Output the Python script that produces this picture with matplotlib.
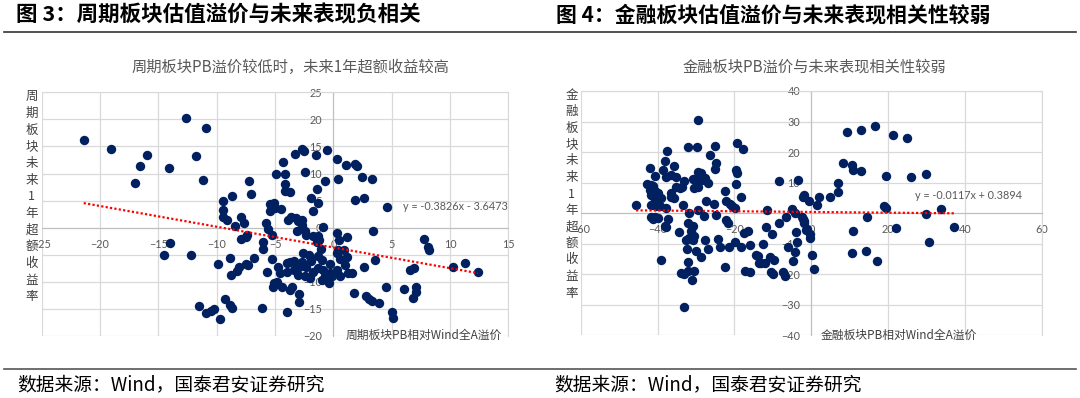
import numpy as np
import matplotlib
matplotlib.use("Agg")
import matplotlib.pyplot as plt
from matplotlib.lines import Line2D

plt.rcParams['font.family'] = ['Noto Sans CJK SC', 'DejaVu Sans']

# 图3：周期板块 PB 相对 Wind 全A 溢价 (x) vs 未来1年超额收益率 (y)
cyc_x = [-21.4, -19.1, -16.0, -16.6, -17.0, -14.1, -12.6, -10.9, -11.8, -11.2,
         -14.0, -14.5, -12.2, -9.9, -8.9, -8.8, -8.3, -8.1, -7.3, -7.5, -6.8,
         -11.5, -10.9, -10.5, -10.2, -9.7, -9.3, -8.9, -8.7, -6.1,
         -9.5, -9.5, -9.5, -9.1, -8.7, -8.4, -7.2, -7.1, -7.9, -7.7, -7.9, -7.5, -7.4,
         -5.8, -5.6, -6.0, -6.0, -5.4, -5.1, -5.4, -5.0, -5.3, -5.3, -5.7, -5.2, -5.1, -4.8, -4.9,
         -2.7, -2.5, -3.3, -1.5, -0.5, -4.3, -4.1, -2.4, 0.3, 1.1, 1.9, 2.0, -0.7, 0.4, 2.5, 3.3,
         -4.1, -4.1, -3.7, -1.4, -1.9, -1.3, -1.7, 1.9, 2.6, 4.6, -4.5,
         -3.9, -3.6, -3.2, -3.0, -2.7, -2.7, -0.9, -3.1, -2.4, -2.3, -1.7, -1.3, -1.2, -1.4,
         0.3, 0.5, 1.2, 3.4,
         -2.6, -2.1, -1.9, -1.05, -1.3, -1.0, -1.9, -0.3, 0.3, 0.6, 1.15, -3.7, -3.4, -4.0,
         -4.7, -2.7, -4.6, -4.0, -3.4, -3.0, -2.4, -1.7, -1.3, -0.9, -0.3, -0.7, 0.3, 1.0,
         1.3, 1.6, 0.6, -0.1, -2.3, -2.9, -0.4, -1.0, -2.0, 0.9, 0.4,
         -3.7, -3.5, -4.4, -2.9, -2.9, -4.0, 1.8, 2.8, 3.1, 3.3, 3.9, 4.5, 5.0, 5.1,
         2.6, 3.6, 6.1, 6.6, 6.9, 7.1, 7.1, 6.8,
         7.8, 8.1, 8.2, 10.3, 11.3, 12.4]
cyc_y = [16.2, 14.5, 13.4, 11.4, 8.2, 11.1, 20.2, 18.5, 13.3, 8.8,
         -2.9, -5.0, -5.0, -6.7, -5.6, -8.8, -8.0, -7.2, -6.9, -6.7, -5.6,
         -14.4, -15.8, -15.4, -15.1, -16.9, -13.2, -14.3, -14.9, -14.9,
         5.0, 3.3, 1.9, 1.4, 5.8, 0.3, 8.6, 6.3, 2.0, 0.9, -2.1, -1.7, -1.3,
         0.8, -0.2, -2.6, -4.0, 4.4, 4.6, 3.0, 3.6, -1.4, -5.8, -8.2, -10.9, -10.3, -10.0, 9.9,
         14.5, 14.2, 13.6, 13.5, 14.3, 12.1, 10.0, 10.3, 12.6, 11.6, 11.7, 11.4, 8.7, 9.0, 9.3, 9.0,
         8.1, 6.8, 6.6, 7.1, 5.4, 4.5, 3.0, 5.2, 5.4, 3.9, 3.5,
         1.5, 1.9, 1.8, 1.3, 1.5, 0.5, 0.1, -0.7, -0.7, -1.3, -1.5, -1.5, -2.3, -2.6,
         -0.9, -2.3, -1.7, -0.7,
         -4.7, -5.0, -5.7, -3.9, -5.2, -6.0, -6.2, -6.7, -4.7, -5.7, -5.35, -6.3, -6.2, -6.6,
         -7.2, -6.3, -8.4, -8.1, -7.8, -8.7, -9.0, -8.1, -7.5, -7.8, -8.4, -9.0, -7.8, -6.9,
         -8.4, -8.4, -9.0, -8.9, -7.2, -7.2, -10.3, -9.65, -9.3, -4.1, -4.1,
         -11.5, -10.9, -10.9, -12.2, -13.7, -15.5, -12.1, -12.7, -13.2, -13.5, -13.9, -10.9, -15.5, -16.7,
         -7.2, -6.0, -11.4, -7.8, -7.5, -10.9, -11.8, -13.0,
         -2.1, -3.5, -4.2, -7.3, -6.5, -8.2]

# 图4：金融板块 PB 相对 Wind 全A 溢价 (x) vs 未来1年超额收益率 (y)
fin_x = [-29.5, -32.2, -29.8, -25.0, -19.4, -17.8, -37.5, -26.3, -38.2, -24.8, -25.1,
         -42.1, -38.6, -35.8, -37.7, -36.4, -35.1, -40.8, -33.0, -35.1, -34.2, -36.4, -35.6, -36.4, -33.6,
         -42.7, -41.6, -41.2, -42.1, -40.8, -40.0, -41.6, -40.4, -39.1, -40.0, -41.6, -40.4, -39.5, -37.8, -40.8, -45.6,
         -29.6, -28.7, -29.0, -27.7, -26.9, -29.9, -30.4, -29.5, -28.4, -30.8, -27.5, -25.3, -24.8, -22.5, -22.2,
         -19.7, -19.4, -19.7, -18.4, -20.7, -19.8, -21.2, -33.4, -31.7, -29.5, -28.0,
         -40.8, -41.2, -40.0, -37.4, -41.7, -37.7, -38.2, -34.5,
         -32.1, -30.8, -31.3, -30.4, -32.6, -31.7, -30.8, -32.4, -29.9, -28.6, -27.7, -26.9, -24.3, -23.7,
         -39.0, -32.0, -33.9, -33.0, -32.1, -30.6, -31.1, -33.2, -22.5, -21.5, -19.9, -18.4, -16.0,
         -22.2, -21.8, -17.6, -16.4, -17.3, -16.0, -14.3, -13.6,
         -8.4, -3.6, -2.1, -0.5, 2.1, 1.4, 4.9, 6.9, 6.9, 8.2, 9.4, 10.5, 10.9, 12.9, 12.8, 16.6,
         14.5, 10.9, 10.5, 14.2, 17.1,
         -5.1, -4.3, -2.5, -2.1, -1.8, -1.2, -0.4, -0.4, -4.0, -3.7, -4.2, -4.9, 0.2, 0.8,
         -6.6, -8.4, -6.0, -10.3, -11.9, -11.6, -12.7, -13.8, -12.1, -13.1, -10.8, -9.7, -10.4, -10.1, -7.3, -6.9,
         21.3, 25.0, 19.3, 26.0, 29.7, -1.9, 19.0, 19.4, 33.6, 29.9, 21.9, 37.1, 30.6, -1.5, -1.9]
fin_y = [30.6, 21.5, 21.7, 22.0, 23.0, 21.1, 20.3, 19.0, 17.1, 16.4, 14.4,
         14.9, 14.2, 15.3, 12.0, 12.5, 12.0, 12.3, 10.6, 8.5, 8.2, 6.6, 4.9, 5.2, 8.7,
         9.5, 9.3, 9.0, 7.6, 7.1, 6.6, 6.0, 5.4, 4.9, 4.3, 2.7, 2.2, 2.4, 1.6, 4.3, 2.8,
         13.4, 13.3, 12.0, 11.5, 9.8, 10.4, 8.2, 8.5, 10.7, 11.1, 4.0, 3.0, -0.6, 7.1, 4.1,
         14.0, 13.3, 9.6, 5.2, 2.2, 1.6, 3.0, 2.7, 0.2, 1.1, -1.0,
         -1.1, -1.9, -1.6, -1.8, -1.1, -4.5, -4.2, -6.2,
         -3.1, -4.2, -5.8, -7.6, -8.7, -8.2, -8.7, -11.7, -12.3, -14.2, -8.7, -11.7, -8.4, -11.0,
         -15.3, -15.9, -19.5, -19.9, -18.8, -18.8, -22.0, -30.8, -17.5, -11.1, -9.6, -11.0, -10.5,
         -2.4, -3.1, -6.6, -5.7, -18.8, -19.3, -13.7, -16.2,
         10.4, 10.9, 5.4, 4.1, 5.2, 2.7, 5.2, 6.8, 9.8, 16.4, 26.7, 15.8, 14.0, 13.9, 27.3, 28.6,
         -1.1, -6.0, -13.1, -12.4, -15.6,
         1.4, 0.0, -1.1, -2.0, -3.1, -5.2, -6.7, -8.2, -6.3, -9.5, -12.7, -15.6, -13.6, -18.3,
         -1.1, -3.3, -11.0, -6.7, -4.4, 1.1, -10.1, -14.0, -16.4, -16.2, -14.4, -15.5, -19.3, -19.9, -19.2, -20.5,
         25.7, 24.5, 12.2, 12.0, 12.9, 5.8, 2.5, 1.6, 1.3, -0.4, -5.0, -4.4, -9.4, -5.5, -2.7]

cyc_fit = [-0.3826, -3.6473]
fin_fit = [-0.0117, 0.3894]
cyc_eq = "y = -0.3826x - 3.6473"
fin_eq = "y = -0.0117x + 0.3894"

W, H = 1080, 398
fig = plt.figure(figsize=(W / 100, H / 100), dpi=100)


def fx(px):
    return px / W


def fy(py):
    return 1 - py / H


def panel(rect, xs, ys, fit, eq, eq_xy, xlim, ylim, xstep, ystep):
    ax = fig.add_axes(rect)
    ax.set_axisbelow(True)
    ax.scatter(xs, ys, s=46, color='#002060', linewidths=0, zorder=3)
    xx = np.array([min(xs), max(xs)])
    ax.plot(xx, fit[0] * xx + fit[1], color='#ff0000', lw=1.6,
            ls=(0, (1, 1)), zorder=4)
    ax.set_xlim(xlim)
    ax.set_ylim(ylim)
    ax.set_xticks(np.arange(xlim[0], xlim[1] + 1, xstep))
    ax.set_yticks(np.arange(ylim[0], ylim[1] + 1, ystep))
    ax.grid(True, color='#d9d9d9', lw=0.9)
    for gl in ax.get_xgridlines() + ax.get_ygridlines():
        gl.set_clip_on(False)
    ax.spines['left'].set_position(('data', 0))
    ax.spines['bottom'].set_position(('data', 0))
    ax.spines['left'].set_color('#bfbfbf')
    ax.spines['bottom'].set_color('#bfbfbf')
    ax.spines['top'].set_color('#d9d9d9')
    ax.spines['right'].set_color('#d9d9d9')
    ax.tick_params(length=0, labelsize=7.8, labelcolor='#595959', pad=8)
    for lab in ax.get_xticklabels() + ax.get_yticklabels():
        lab.set_family('Lato')
    ax.text(eq_xy[0], eq_xy[1], eq, fontsize=7.8, color='#595959',
            family='Lato', va='center', ha='left', zorder=5)
    return ax


panel([fx(41.7), fy(336), fx(508.3) - fx(41.7), fy(92.3) - fy(336)],
      cyc_x, cyc_y, cyc_fit, cyc_eq, (6.0, 3.9), (-25, 15), (-20, 25), 5, 5)
panel([fx(580.7), fy(335.3), fx(1042) - fx(580.7), fy(91) - fy(335.3)],
      fin_x, fin_y, fin_fit, fin_eq, (27.0, 5.7), (-60, 60), (-40, 40), 20, 10)

# headers
fig.text(fx(16), fy(15), "图 3：周期板块估值溢价与未来表现负相关", fontsize=15.5,
         fontweight='bold', va='center', ha='left')
fig.text(fx(556), fy(15), "图 4：金融板块估值溢价与未来表现相关性较弱", fontsize=15,
         fontweight='bold', va='center', ha='left')
fig.add_artist(Line2D([fx(4), fx(1076)], [fy(32), fy(32)], color='#333333', lw=1.2))
fig.add_artist(Line2D([fx(4), fx(1076)], [fy(369), fy(369)], color='#555555', lw=1.2))

# chart titles
fig.text(fx(290), fy(67), "周期板块PB溢价较低时，未来1年超额收益较高", fontsize=11,
         color='#595959', ha='center', va='center')
fig.text(fx(814), fy(67), "金融板块PB溢价与未来表现相关性较弱", fontsize=11,
         color='#595959', ha='center', va='center')

# vertical y labels
ylab_l = "周期板块未来1年超额收益率"
ylab_r = "金融板块未来1年超额收益率"
for i, ch in enumerate(ylab_l):
    fig.text(fx(31.7), fy(96.7 + i * 16.67), ch, fontsize=9, color='#404040',
             ha='center', va='center')
for i, ch in enumerate(ylab_r):
    fig.text(fx(571.7), fy(95 + i * 16.5), ch, fontsize=9, color='#404040',
             ha='center', va='center')

# x labels
fig.text(fx(346), fy(335), "周期板块PB相对Wind全A溢价", fontsize=8.5, color='#404040',
         ha='left', va='center')
fig.text(fx(821), fy(335), "金融板块PB相对Wind全A溢价", fontsize=8.5, color='#404040',
         ha='left', va='center')

# sources
fig.text(fx(17), fy(385), "数据来源：Wind，国泰君安证券研究", fontsize=13.5,
         ha='left', va='center')
fig.text(fx(554), fy(385), "数据来源：Wind，国泰君安证券研究", fontsize=13.5,
         ha='left', va='center')

fig.savefig("out.png", dpi=100)
